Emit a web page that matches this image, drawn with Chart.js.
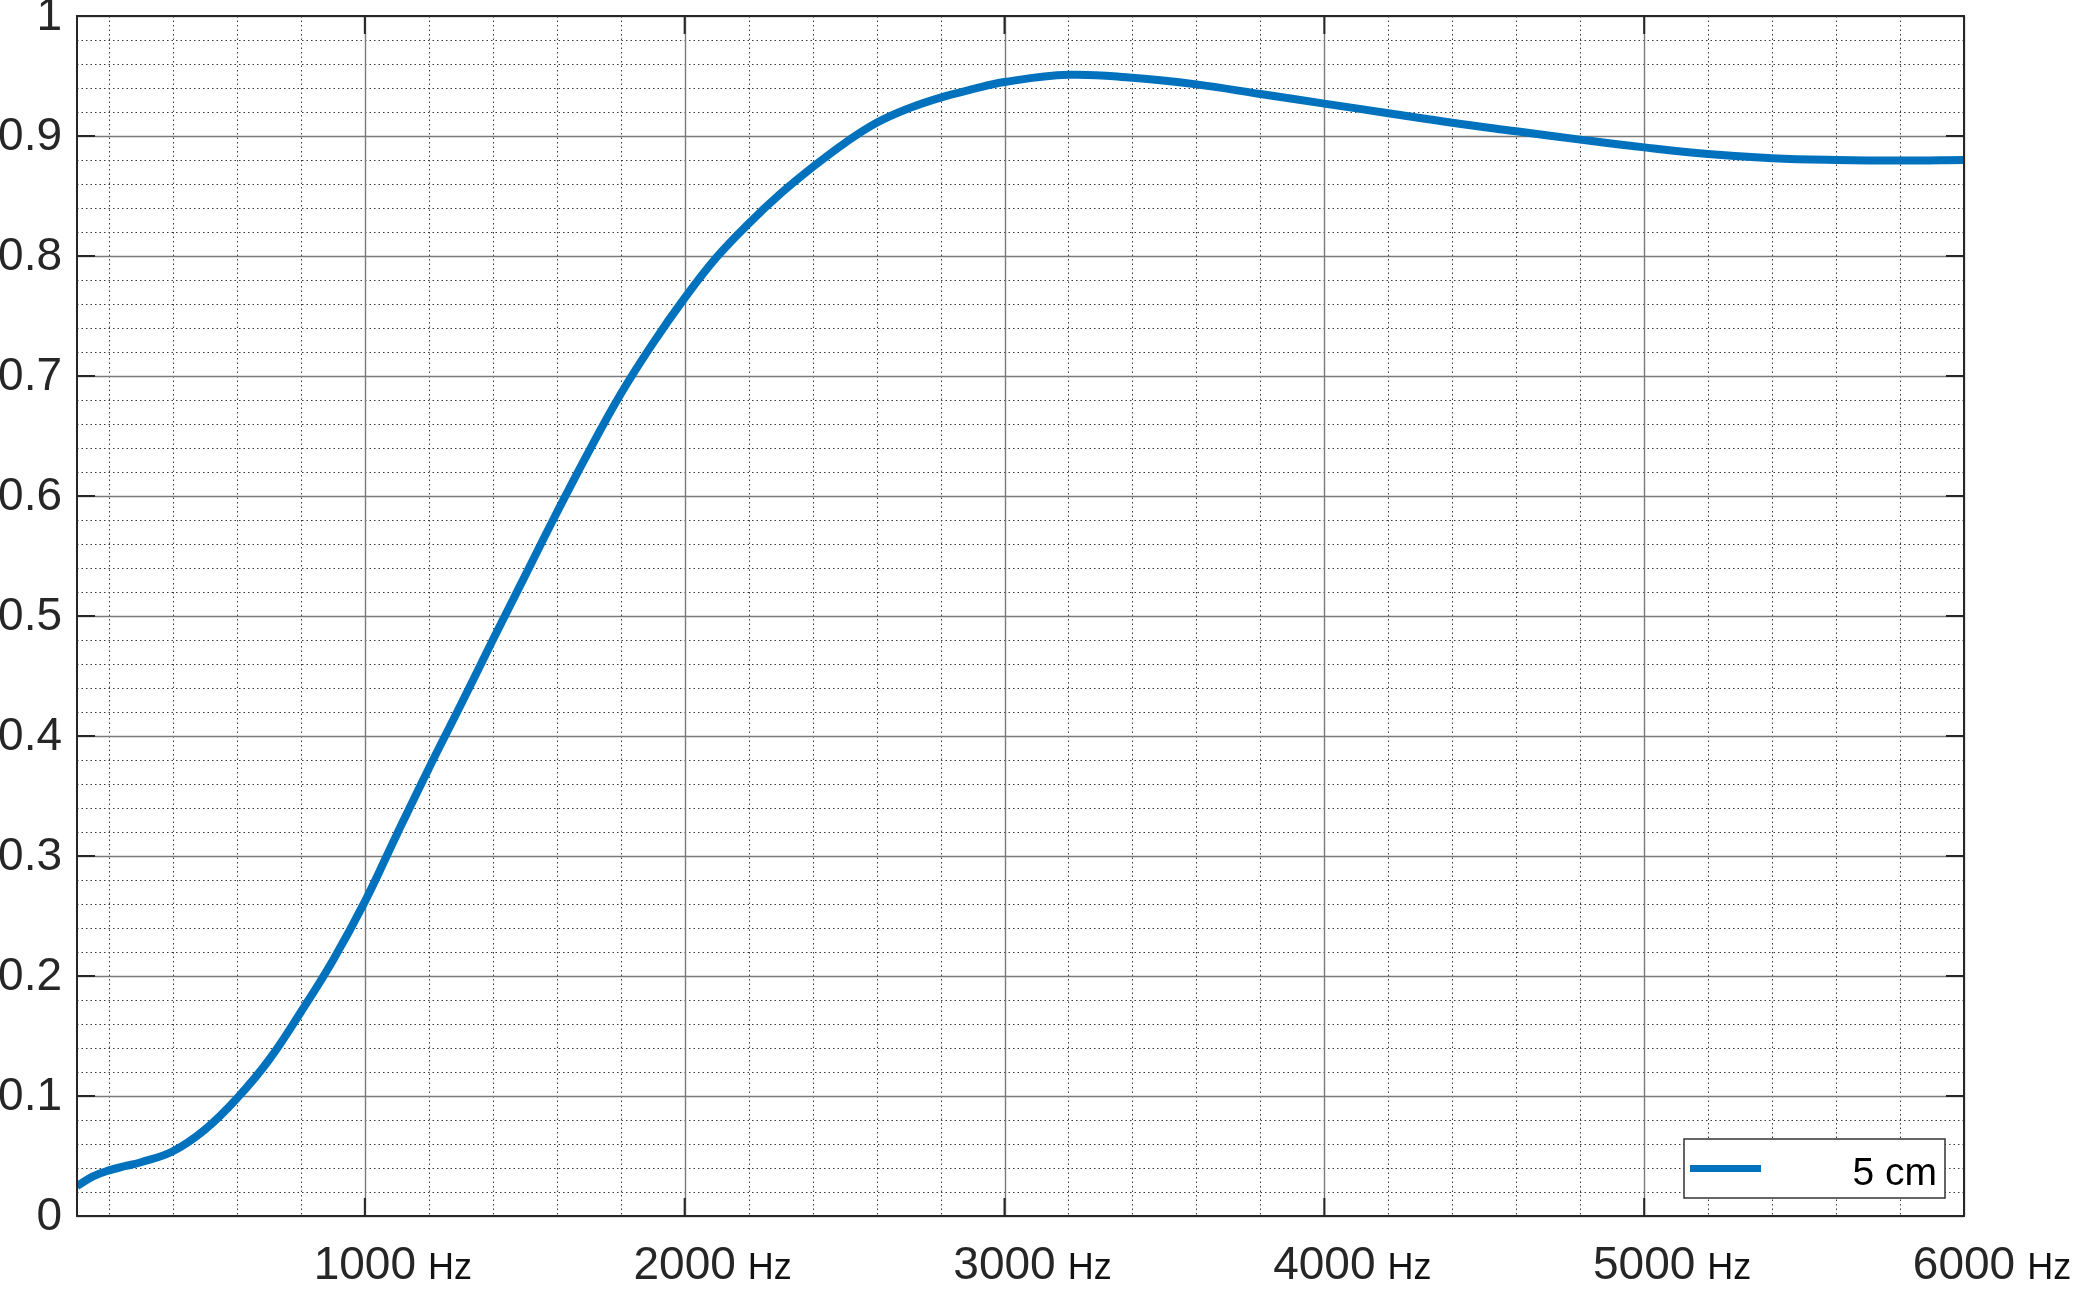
<!DOCTYPE html>
<html>
<head>
<meta charset="utf-8">
<script src="https://cdn.jsdelivr.net/npm/chart.js@4.4.1/dist/chart.umd.min.js"></script>
<style>
  html, body { margin: 0; padding: 0; background: #fff; }
  #wrap { width: 2078px; height: 1308px; }
</style>
</head>
<body>
<div id="wrap"><canvas id="absorpChart" width="2078" height="1308"></canvas></div>
<script>
// frequency (Hz) and absorption coefficient
const freqHz = [100, 150, 200, 250, 300, 400, 500, 600, 700, 800, 900, 1000, 1100, 1200, 1300, 1400, 1500,
  1600, 1700, 1800, 1900, 2000, 2100, 2200, 2300, 2400, 2500, 2600, 2700, 2800, 2900, 3000, 3200, 3400,
  3600, 3800, 4000, 4200, 4400, 4600, 4800, 5000, 5200, 5400, 5600, 5800, 6000];
const alpha5cm = [0.025, 0.033, 0.038, 0.0415, 0.0448, 0.054, 0.072, 0.098, 0.130, 0.170, 0.213, 0.262, 0.318, 0.373, 0.426, 0.480, 0.533,
  0.586, 0.637, 0.685, 0.727, 0.765, 0.799, 0.827, 0.852, 0.874, 0.894, 0.911, 0.923, 0.932, 0.939, 0.945, 0.951, 0.9485,
  0.943, 0.935, 0.927, 0.919, 0.911, 0.904, 0.897, 0.8905, 0.885, 0.8815, 0.880, 0.8795, 0.880];
const seriesLabel = '5 cm';

// axis ticks
const xMajorTicks = [1000, 2000, 3000, 4000, 5000, 6000];
const xUnit = 'Hz';
const yMajorTicks = [0, 0.1, 0.2, 0.3, 0.4, 0.5, 0.6, 0.7, 0.8, 0.9, 1];
const yTickLabels = ['0', '0.1', '0.2', '0.3', '0.4', '0.5', '0.6', '0.7', '0.8', '0.9', '1'];

const txtColor = '#262626';
const lineBlue = '#0072BD';
const fontFam = '"Liberation Sans", Arial, sans-serif';

// minor grid every 200 Hz and every 0.02
const xMinor = [];
for (let f = 200; f < 6000; f += 200) if (f % 1000 !== 0) xMinor.push(f);
const yMinor = [];
for (let i = 1; i < 50; i++) if (i % 5 !== 0) yMinor.push(i / 50);

const matlabLook = {
  id: 'matlabLook',
  beforeDatasetsDraw(chart) {
    const { ctx, chartArea: a, scales: { x, y } } = chart;
    ctx.save();
    // dotted minor grid
    ctx.strokeStyle = '#3a3a3a';
    ctx.lineWidth = 1;
    ctx.setLineDash([1.5, 3]);
    xMinor.forEach(f => {
      const px = Math.round(x.getPixelForValue(f)) + 0.5;
      ctx.beginPath(); ctx.moveTo(px, a.top); ctx.lineTo(px, a.bottom); ctx.stroke();
    });
    yMinor.forEach(v => {
      const py = Math.round(y.getPixelForValue(v)) + 0.5;
      ctx.beginPath(); ctx.moveTo(a.left, py); ctx.lineTo(a.right, py); ctx.stroke();
    });
    // solid major grid
    ctx.setLineDash([]);
    ctx.strokeStyle = '#7a7a7a';
    ctx.lineWidth = 1.4;
    xMajorTicks.forEach(f => {
      const px = Math.round(x.getPixelForValue(f)) + 0.5;
      ctx.beginPath(); ctx.moveTo(px, a.top); ctx.lineTo(px, a.bottom); ctx.stroke();
    });
    yMajorTicks.forEach(v => {
      const py = Math.round(y.getPixelForValue(v)) + 0.5;
      ctx.beginPath(); ctx.moveTo(a.left, py); ctx.lineTo(a.right, py); ctx.stroke();
    });
    ctx.restore();
  },
  afterDraw(chart) {
    const { ctx, chartArea: a, scales: { x, y } } = chart;
    const tl = 18;
    ctx.save();
    // box
    ctx.strokeStyle = txtColor;
    ctx.lineWidth = 2;
    ctx.strokeRect(a.left, a.top, a.right - a.left, a.bottom - a.top);
    // inner ticks on all four sides
    ctx.beginPath();
    xMajorTicks.forEach(f => {
      const px = x.getPixelForValue(f);
      ctx.moveTo(px, a.bottom); ctx.lineTo(px, a.bottom - tl);
      ctx.moveTo(px, a.top); ctx.lineTo(px, a.top + tl);
    });
    yMajorTicks.forEach(v => {
      const py = y.getPixelForValue(v);
      ctx.moveTo(a.left, py); ctx.lineTo(a.left + tl, py);
      ctx.moveTo(a.right, py); ctx.lineTo(a.right - tl, py);
    });
    ctx.stroke();

    // y labels
    ctx.font = '46px ' + fontFam;
    ctx.fillStyle = txtColor;
    ctx.textAlign = 'right';
    ctx.textBaseline = 'middle';
    yMajorTicks.forEach((v, i) => {
      ctx.fillText(yTickLabels[i], a.left - 15, y.getPixelForValue(v) + 1);
    });

    // x labels: number centred on tick, smaller unit after it
    ctx.textBaseline = 'alphabetic';
    const base = a.bottom + 63;
    xMajorTicks.forEach(f => {
      const px = x.getPixelForValue(f);
      ctx.font = '46px ' + fontFam;
      ctx.fillStyle = txtColor;
      ctx.textAlign = 'center';
      const num = String(f);
      ctx.fillText(num, px, base);
      const w = ctx.measureText(num).width;
      ctx.font = '36px ' + fontFam;
      ctx.fillStyle = '#111';
      ctx.textAlign = 'left';
      ctx.fillText(xUnit, px + w / 2 + 12, base);
    });

    // legend, lower right inside the axes
    const ds = chart.data.datasets[0];
    const bw = 261, bh = 59;
    const bx = a.right - 19 - bw, by = a.bottom - 18 - bh;
    ctx.fillStyle = '#fff';
    ctx.fillRect(bx, by, bw, bh);
    ctx.strokeStyle = '#333';
    ctx.lineWidth = 1.5;
    ctx.strokeRect(bx, by, bw, bh);
    ctx.strokeStyle = ds.borderColor;
    ctx.lineWidth = 7;
    ctx.beginPath();
    ctx.moveTo(bx + 6, by + bh / 2); ctx.lineTo(bx + 77, by + bh / 2);
    ctx.stroke();
    ctx.font = '39px ' + fontFam;
    ctx.fillStyle = '#000';
    ctx.textAlign = 'right';
    ctx.fillText(ds.label, bx + bw - 8, by + 46);
    ctx.restore();
  }
};

const ctx = document.getElementById('absorpChart').getContext('2d');
const absorpChart = new Chart(ctx, {
  type: 'line',
  data: {
    datasets: [{
      label: seriesLabel,
      data: freqHz.map((f, i) => ({ x: f, y: alpha5cm[i] })),
      borderColor: lineBlue,
      borderWidth: 8,
      pointRadius: 0,
      fill: false,
      tension: 0.4
    }]
  },
  options: {
    responsive: false,
    animation: false,
    layout: { padding: { top: 16, right: 114, left: 0, bottom: 0 } },
    plugins: { legend: { display: false }, tooltip: { enabled: false } },
    scales: {
      x: {
        type: 'linear',
        min: 100,
        max: 6000,
        ticks: { display: false },
        grid: { display: false },
        border: { display: false },
        afterFit: s => { s.height = 92; }
      },
      y: {
        min: 0,
        max: 1,
        ticks: { display: false },
        grid: { display: false },
        border: { display: false },
        afterFit: s => { s.width = 77; }
      }
    }
  },
  plugins: [matlabLook]
});
</script>
</body>
</html>
